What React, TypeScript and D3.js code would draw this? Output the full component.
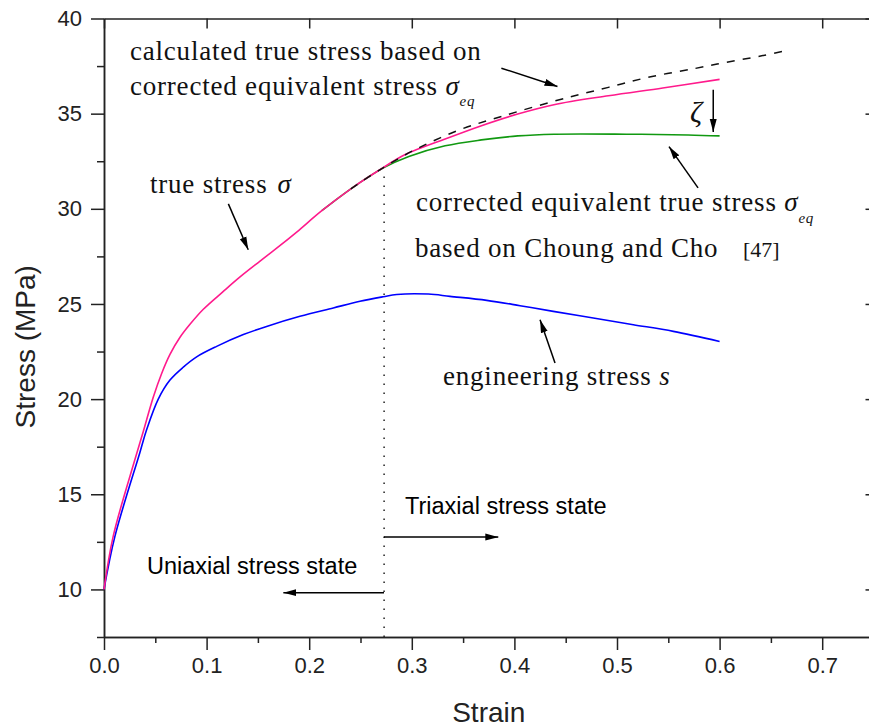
import { useEffect, useRef } from "react"
import * as d3 from "d3"

// true stress (pink)
const trueStrain = [0, 0.009, 0.030, 0.0383, 0.048, 0.0562, 0.0643, 0.0741, 0.0838, 0.0968, 0.1163, 0.1326, 0.1521, 0.1683, 0.1878, 0.2123, 0.2406, 0.2688, 0.2936, 0.3325, 0.3679, 0.4032, 0.4385, 0.4916, 0.5446, 0.60]
const trueStress = [10, 12.8, 16.8, 18.3, 20.1, 21.35, 22.35, 23.25, 23.93, 24.72, 25.66, 26.42, 27.25, 27.93, 28.78, 29.9, 31.05, 32.05, 32.85, 33.67, 34.37, 34.98, 35.47, 35.94, 36.35, 36.8]

// engineering stress (blue)
const engStrain = [0, 0.0107, 0.035, 0.0416, 0.0529, 0.0643, 0.0773, 0.0903, 0.1098, 0.1358, 0.1585, 0.191, 0.2235, 0.2495, 0.2722, 0.2853, 0.3161, 0.3372, 0.373, 0.4055, 0.4379, 0.4769, 0.5159, 0.5549, 0.60]
const engStress = [10, 12.8, 17.2, 18.4, 20.0, 21.0, 21.68, 22.22, 22.77, 23.39, 23.82, 24.35, 24.79, 25.14, 25.38, 25.5, 25.52, 25.4, 25.19, 24.91, 24.61, 24.26, 23.91, 23.56, 23.03]

// corrected equivalent true stress (green)
const eqStrain = [0.2123, 0.2406, 0.2723, 0.2971, 0.3325, 0.3679, 0.4032, 0.4385, 0.5092, 0.5693, 0.60]
const eqStress = [29.9, 31.05, 32.15, 32.75, 33.31, 33.62, 33.83, 33.92, 33.92, 33.88, 33.83]

// calculated true stress from corrected equivalent stress (black dashed)
const calcStrain = [0.2406, 0.2688, 0.304, 0.3466, 0.389, 0.4527, 0.4916, 0.5305, 0.5765, 0.5976, 0.64, 0.664]
const calcStress = [31.05, 32.05, 33.13, 34.15, 34.88, 35.86, 36.38, 36.91, 37.38, 37.61, 38.03, 38.3]

const xTicks = [0, 0.1, 0.2, 0.3, 0.4, 0.5, 0.6, 0.7]
const xMinor = [0.05, 0.15, 0.25, 0.35, 0.45, 0.55, 0.65, 0.75]
const yTicks = [10, 15, 20, 25, 30, 35, 40]
const yMinor = [7.5, 12.5, 17.5, 22.5, 27.5, 32.5, 37.5]

const splitStrain = 0.273

// arrows: [fromStrain, fromStress, toStrain, toStress]
const arrows = [
  [0.3873, 37.39, 0.442, 36.43],
  [0.1212, 30.26, 0.1406, 27.85],
  [0.579, 31.1, 0.5507, 33.27],
  [0.5938, 36.25, 0.5938, 34.04],
  [0.4396, 21.9, 0.425, 24.17],
  [0.2729, 12.75, 0.3843, 12.75],
  [0.2729, 9.83, 0.1748, 9.83],
]

const W = 869
const H = 727

const App = () => {
  const svgRef = useRef<SVGSVGElement>(null)

  useEffect(() => {
    const svg = d3.select(svgRef.current)
    svg.selectAll("*").remove()

    const x = d3.scaleLinear().domain([0, 0.75]).range([104, 873.5])
    const y = d3.scaleLinear().domain([7.5, 40]).range([637, 18.5])

    const axisColor = "#222"
    const tickFont = "'Liberation Sans', Arial, sans-serif"

    const styleAxis = (g: any) => {
      g.select(".domain").attr("stroke", axisColor).attr("stroke-width", 1.5)
      g.selectAll(".tick line").attr("stroke", axisColor).attr("stroke-width", 1.5)
      g.selectAll(".tick text").attr("fill", axisColor).style("font-family", tickFont).style("font-size", "22px")
    }

    // bottom axis
    svg.append("g").attr("transform", `translate(0,${y(7.5)})`)
      .call(d3.axisBottom(x).tickValues(xMinor).tickSize(6).tickSizeOuter(0).tickFormat(() => ""))
      .call(styleAxis)
    svg.append("g").attr("transform", `translate(0,${y(7.5)})`)
      .call(d3.axisBottom(x).tickValues(xTicks).tickSize(13).tickPadding(7).tickSizeOuter(0).tickFormat(d3.format(".1f")))
      .call(styleAxis)

    // left axis
    svg.append("g").attr("transform", `translate(${x(0)},0)`)
      .call(d3.axisLeft(y).tickValues(yMinor).tickSize(7).tickSizeOuter(0).tickFormat(() => ""))
      .call(styleAxis)
    svg.append("g").attr("transform", `translate(${x(0)},0)`)
      .call(d3.axisLeft(y).tickValues(yTicks).tickSize(13).tickPadding(9).tickSizeOuter(0).tickFormat(d3.format("d")))
      .call(styleAxis)

    // top and right frame, ticks pointing inward
    svg.append("g").attr("transform", `translate(0,${y(40)})`)
      .call(d3.axisBottom(x).tickValues(xTicks).tickSize(10).tickSizeOuter(0).tickFormat(() => ""))
      .call(styleAxis)
    svg.append("g").attr("transform", `translate(${x(0.75)},0)`)
      .call(d3.axisLeft(y).tickValues(yTicks).tickSize(8).tickSizeOuter(0).tickFormat(() => ""))
      .call(styleAxis)

    // axis titles
    svg.append("text")
      .attr("x", (x(0) + x(0.75)) / 2).attr("y", 722)
      .attr("text-anchor", "middle")
      .style("font-family", tickFont).style("font-size", "28px").attr("fill", axisColor)
      .text("Strain")
    svg.append("text")
      .attr("transform", `translate(35,${(y(7.5) + y(40)) / 2 + 19}) rotate(-90)`)
      .attr("text-anchor", "middle")
      .style("font-family", tickFont).style("font-size", "28px").attr("fill", axisColor)
      .text("Stress (MPa)")

    const line = d3.line<[number, number]>()
      .x(d => x(d[0]))
      .y(d => y(d[1]))
      .curve(d3.curveCatmullRom.alpha(0.5))

    const zip = (a: number[], b: number[]) => a.map((v, i) => [v, b[i]] as [number, number])

    svg.append("path").datum(zip(engStrain, engStress))
      .attr("fill", "none").attr("stroke", "#0000ff").attr("stroke-width", 1.6).attr("d", line)
    svg.append("path").datum(zip(eqStrain, eqStress))
      .attr("fill", "none").attr("stroke", "#119911").attr("stroke-width", 1.6).attr("d", line)
    svg.append("path").datum(zip(trueStrain, trueStress))
      .attr("fill", "none").attr("stroke", "#ff1a8c").attr("stroke-width", 1.6).attr("d", line)
    svg.append("path").datum(zip(calcStrain, calcStress))
      .attr("fill", "none").attr("stroke", "#111").attr("stroke-width", 1.5)
      .attr("stroke-dasharray", "8,8").attr("d", line)

    // boundary between uniaxial and triaxial states
    svg.append("line")
      .attr("x1", x(splitStrain)).attr("x2", x(splitStrain))
      .attr("y1", y(31.7)).attr("y2", y(7.5))
      .attr("stroke", "#222").attr("stroke-width", 1.5).attr("stroke-dasharray", "1.5,7.5")

    // arrows
    svg.append("defs").append("marker")
      .attr("id", "head").attr("viewBox", "0 0 13 8")
      .attr("refX", 13).attr("refY", 4)
      .attr("markerWidth", 13).attr("markerHeight", 8)
      .attr("markerUnits", "userSpaceOnUse").attr("orient", "auto")
      .append("path").attr("d", "M0,0.5 L13,4 L0,7.5 Z").attr("fill", "#000")

    svg.selectAll(".arrow").data(arrows).enter().append("line")
      .attr("class", "arrow")
      .attr("x1", d => x(d[0])).attr("y1", d => y(d[1]))
      .attr("x2", d => x(d[2])).attr("y2", d => y(d[3]))
      .attr("stroke", "#000").attr("stroke-width", 1.5)
      .attr("marker-end", "url(#head)")

    // annotation texts
    const serif = "'Liberation Serif', 'Times New Roman', serif"
    const label = (sx: number, sy: number) => svg.append("text")
      .attr("x", x(sx)).attr("y", y(sy))
      .style("font-family", serif).style("font-size", "27px").style("letter-spacing", "0.8px")
      .attr("fill", "#111")

    label(0.0253, 37.82).text("calculated true stress based on")
    const t2 = label(0.0253, 35.98)
    t2.append("tspan").text("corrected equivalent stress ")
    t2.append("tspan").style("font-style", "italic").text("σ")
    t2.append("tspan").attr("dy", 11).style("font-style", "italic").style("font-size", "15px").text("eq")

    const t3 = label(0.0448, 30.84)
    t3.append("tspan").text("true stress")
    t3.append("tspan").attr("dx", 10).style("font-style", "italic").text("σ")

    const t4 = label(0.3041, 29.9)
    t4.append("tspan").text("corrected equivalent true stress ")
    t4.append("tspan").style("font-style", "italic").text("σ")
    t4.append("tspan").attr("dy", 12).style("font-style", "italic").style("font-size", "15px").text("eq")

    label(0.3031, 27.48).text("based on Choung and Cho")
    svg.append("text")
      .attr("x", x(0.6228)).attr("y", y(27.48))
      .style("font-family", serif).style("font-size", "22px").attr("fill", "#111")
      .text("[47]")

    const t5 = label(0.3304, 20.76)
    t5.append("tspan").text("engineering stress ")
    t5.append("tspan").style("font-style", "italic").text("s")

    svg.append("text")
      .attr("x", x(0.5712)).attr("y", y(34.57))
      .style("font-family", serif).style("font-size", "30px").style("font-style", "italic")
      .attr("fill", "#111")
      .text("ζ")

    const sans = (sx: number, sy: number, s: string) => svg.append("text")
      .attr("x", x(sx)).attr("y", y(sy))
      .style("font-family", tickFont).style("font-size", "23.5px")
      .attr("fill", "#000")
      .text(s)

    sans(0.2934, 13.94, "Triaxial stress state")
    sans(0.0419, 10.79, "Uniaxial stress state")
  }, [])

  return (
    <svg
      ref={svgRef}
      width={W}
      height={H}
      style={{ position: "absolute", left: 0, top: 0, background: "#fff" }}
    />
  )
}

export default App
